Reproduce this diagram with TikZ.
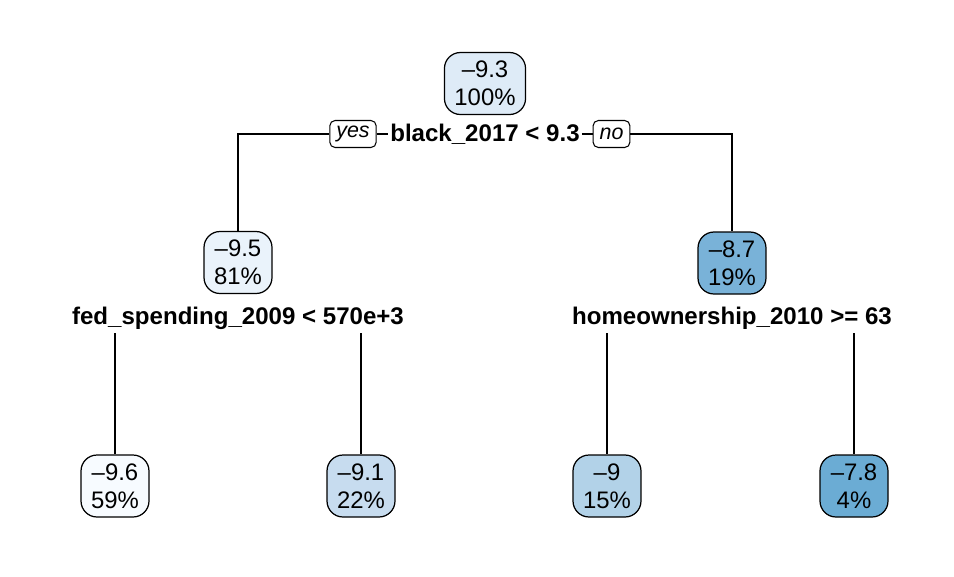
\documentclass[tikz,border=0pt]{standalone}
\usepackage{fontspec}
\setmainfont{Liberation Sans}
\usepackage{tikz}

\definecolor{blueA}{RGB}{222,235,247}
\definecolor{blueB}{RGB}{234,243,251}
\definecolor{blueC}{RGB}{121,178,216}
\definecolor{blueD}{RGB}{247,251,255}
\definecolor{blueE}{RGB}{199,220,239}
\definecolor{blueF}{RGB}{178,210,232}
\definecolor{blueG}{RGB}{107,172,212}

\tikzset{
    treebox/.style={draw, line width=0.7pt, rounded corners=0.32cm, align=center,
        minimum width=1.36cm, minimum height=1.24cm, inner xsep=0.2cm,
        font=\fontsize{13.6}{16.2}\selectfont},
    splitlabel/.style={fill=white, inner xsep=1pt, inner ysep=2pt,
        font=\fontsize{13.7}{16}\selectfont\bfseries},
    answer/.style={draw, line width=0.6pt, rounded corners=3pt, fill=white,
        minimum height=0.54cm, inner xsep=0.13cm, inner ysep=1pt,
        font=\fontsize{12.2}{14}\selectfont\itshape}
}

\begin{document}
\begin{tikzpicture}[x=0.02cm,y=-0.02cm]
                \useasboundingbox (0,0) rectangle (954,576);

                % root
                \node[treebox, fill=blueA] (root) at (485,83.5) {–9.3\\100\%};
                \node[splitlabel] (splitroot) at (485,134) {black\_2017 < 9.3};
                \node[answer] (yes) at (353,134) {yes};
                \node[answer] (no) at (611.5,134) {no};

                % second level
                \node[treebox, fill=blueB] (left) at (238,262.5) {–9.5\\81\%};
                \node[treebox, fill=blueC] (right) at (732,263) {–8.7\\19\%};
                \node[splitlabel] (splitleft) at (238,318) {fed\_spending\_2009 < 570e+3};
                \node[splitlabel] (splitright) at (732,318) {homeownership\_2010 >= 63};

                % leaves
                \node[treebox, fill=blueD] (leafA) at (115,486) {–9.6\\59\%};
                \node[treebox, fill=blueE] (leafB) at (361,486) {–9.1\\22\%};
                \node[treebox, fill=blueF] (leafC) at (607,486) {–9\\15\%};
                \node[treebox, fill=blueG] (leafD) at (854,486) {–7.8\\4\%};

                \draw[line width=0.7pt] (yes.west) -| (left.north);
                \draw[line width=0.7pt] (yes.east) -- (splitroot.west);
                \draw[line width=0.7pt] (splitroot.east) -- (no.west);
                \draw[line width=0.7pt] (no.east) -| (right.north);

                \draw[line width=0.7pt] (splitleft.south -| leafA.north) -- (leafA.north);
                \draw[line width=0.7pt] (splitleft.south -| leafB.north) -- (leafB.north);
                \draw[line width=0.7pt] (splitright.south -| leafC.north) -- (leafC.north);
                \draw[line width=0.7pt] (splitright.south -| leafD.north) -- (leafD.north);
            \end{tikzpicture}
\end{document}
